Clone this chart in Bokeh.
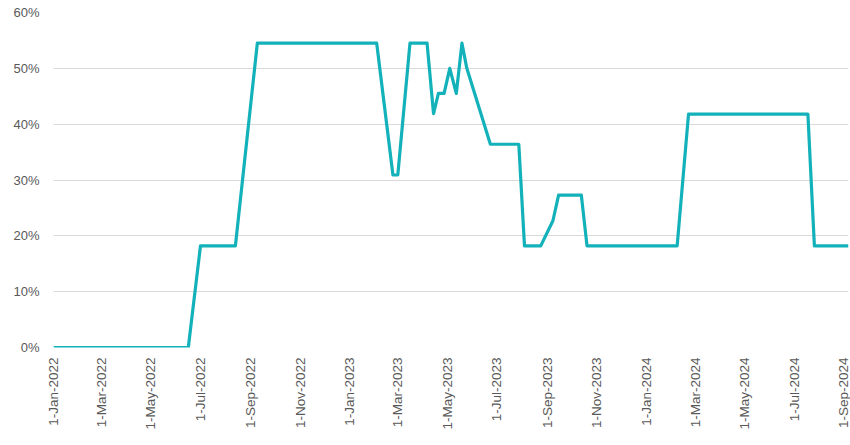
import pandas as pd
from bokeh.plotting import figure
from bokeh.models import Range1d, FixedTicker, NumeralTickFormatter, ColumnDataSource
from bokeh.embed import file_html
from bokeh.resources import INLINE

# ---- data ----
dates = [
    "2022-01-01", "2022-06-16", "2022-07-01", "2022-08-13", "2022-09-09",
    "2023-02-03", "2023-02-23", "2023-03-01", "2023-03-16", "2023-04-06",
    "2023-04-14", "2023-04-20", "2023-04-27", "2023-05-04", "2023-05-12",
    "2023-05-19", "2023-05-25", "2023-06-23", "2023-07-28", "2023-08-04",
    "2023-08-24", "2023-09-08", "2023-09-15", "2023-10-13", "2023-10-20",
    "2024-02-08", "2024-02-22", "2024-07-18", "2024-07-26", "2024-09-06",
]
values = [
    0.0, 0.0, 0.182, 0.182, 0.545,
    0.545, 0.309, 0.309, 0.545, 0.545,
    0.419, 0.455, 0.455, 0.50, 0.455,
    0.545, 0.50, 0.364, 0.364, 0.182,
    0.182, 0.227, 0.273, 0.273, 0.182,
    0.182, 0.418, 0.418, 0.182, 0.182,
]
tick_dates = [
    "2022-01-01", "2022-03-01", "2022-05-01", "2022-07-01", "2022-09-01",
    "2022-11-01", "2023-01-01", "2023-03-01", "2023-05-01", "2023-07-01",
    "2023-09-01", "2023-11-01", "2024-01-01", "2024-03-01", "2024-05-01",
    "2024-07-01", "2024-09-01",
]
tick_labels = [
    "1-Jan-2022", "1-Mar-2022", "1-May-2022", "1-Jul-2022", "1-Sep-2022",
    "1-Nov-2022", "1-Jan-2023", "1-Mar-2023", "1-May-2023", "1-Jul-2023",
    "1-Sep-2023", "1-Nov-2023", "1-Jan-2024", "1-Mar-2024", "1-May-2024",
    "1-Jul-2024", "1-Sep-2024",
]
y_ticks = [0.0, 0.1, 0.2, 0.3, 0.4, 0.5, 0.6]

# ---- figure ----
x = pd.to_datetime(dates)
src = ColumnDataSource(dict(x=x, y=values))

p = figure(
    width=850, height=445,
    x_axis_type="datetime",
    output_backend="svg", toolbar_location=None,
    min_border_left=53, min_border_right=2, min_border_top=12, min_border_bottom=98,
)
p.x_range = Range1d(start=x[0], end=x[-1])
p.y_range = Range1d(start=0, end=0.6)

p.line("x", "y", source=src, line_color="#13B1B9", line_width=3.2, line_join="round")

# x axis
tick_ms = [int(pd.Timestamp(d).value // 10**6) for d in tick_dates]
p.xaxis.ticker = FixedTicker(ticks=tick_ms)
p.xaxis.major_label_overrides = {t: lab for t, lab in zip(tick_ms, tick_labels)}
p.xaxis.major_label_orientation = 1.5707963267948966
p.xaxis.axis_line_color = None
p.xaxis.major_tick_line_color = None
p.xaxis.minor_tick_line_color = None
p.xaxis.major_tick_out = 0
p.xaxis.major_tick_in = 0
p.xaxis.minor_tick_out = 0
p.xaxis.major_label_standoff = 10
p.xaxis.major_label_text_font = "Liberation Sans"
p.xaxis.major_label_text_font_size = "13.5px"
p.xaxis.major_label_text_color = "#595959"

# y axis
p.yaxis.ticker = FixedTicker(ticks=y_ticks)
p.yaxis.formatter = NumeralTickFormatter(format="0%")
p.yaxis.axis_line_color = None
p.yaxis.major_tick_line_color = None
p.yaxis.minor_tick_line_color = None
p.yaxis.major_tick_out = 0
p.yaxis.major_tick_in = 0
p.yaxis.minor_tick_out = 0
p.yaxis.major_label_standoff = 14
p.yaxis.major_label_text_font = "Liberation Sans"
p.yaxis.major_label_text_font_size = "13px"
p.yaxis.major_label_text_color = "#595959"

p.xgrid.grid_line_color = None
p.ygrid.ticker = FixedTicker(ticks=y_ticks)
p.ygrid.grid_line_color = "#D9D9D9"
p.ygrid.grid_line_width = 1
p.outline_line_color = None
p.background_fill_color = "white"
p.border_fill_color = "white"

open("out.html", "w").write(file_html(p, INLINE))
